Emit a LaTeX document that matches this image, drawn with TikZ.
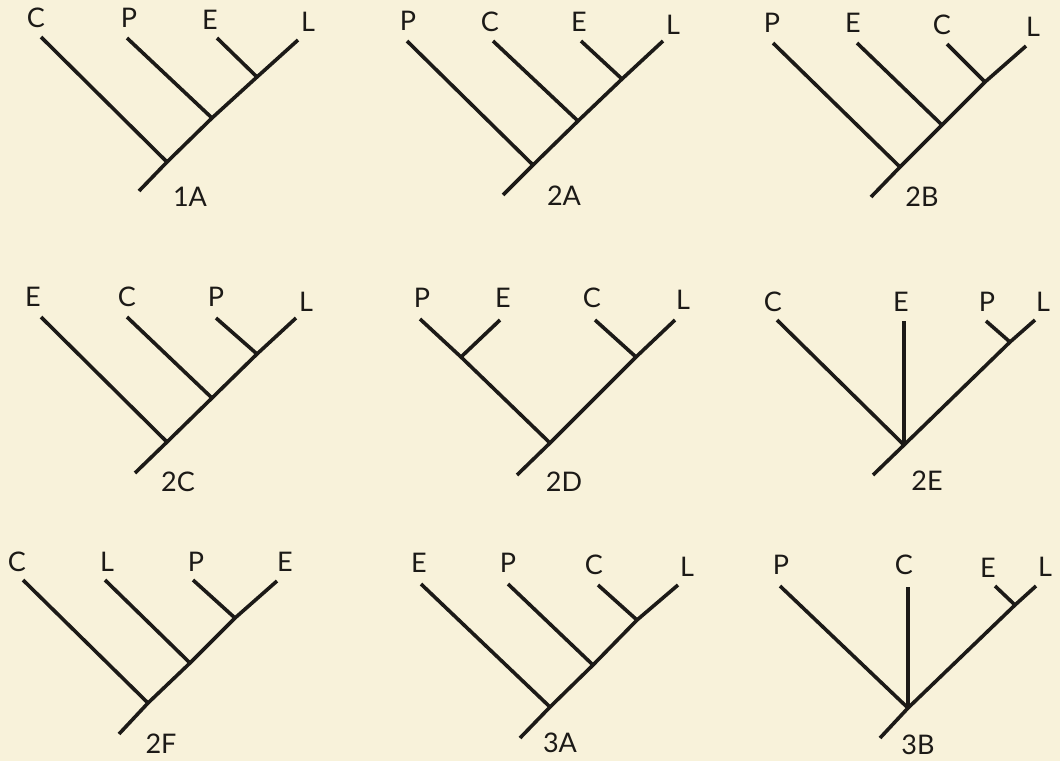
\documentclass[tikz,border=0pt]{standalone}
\usepackage{fontspec}
\setmainfont{Lato}
\usepackage{tikz}
\usetikzlibrary{positioning,calc}
\definecolor{paper}{HTML}{F8F2DA}
\definecolor{ink}{HTML}{1C1A17}
\tikzset{
  branch/.style={draw=ink,line width=3.6pt,line cap=butt,line join=miter},
  taxon/.style={font=\fontsize{27}{27}\selectfont,text=ink,inner sep=0pt},
  tag/.style={font=\fontsize{27}{27}\selectfont,text=ink,inner sep=0pt}
}
\begin{document}
\begin{tikzpicture}[x=1pt,y=-1pt]
  \fill[paper] (0,0) rectangle (1060,761);
  \useasboundingbox (0,0) rectangle (1060,761);
  % 1A
  \coordinate (a-r) at (139,191); \coordinate (a-1) at (167,162);
  \coordinate (a-2) at (212,118); \coordinate (a-3) at (257,77);
  \coordinate (a-C) at (41,37);   \coordinate (a-P) at (127,38);
  \coordinate (a-E) at (217,38);  \coordinate (a-L) at (298,40);
  \draw[branch] (a-r) -- (a-1) -- (a-2) -- (a-3) -- (a-L);
  \foreach \a/\b in {a-C/a-1,a-P/a-2,a-E/a-3}{\draw[branch] (\a) -- (\b);}
  \node[taxon] (a-tC) at (36,18) {C};  \node[taxon] (a-tP) at (129,18) {P};
  \node[taxon] (a-tE) at (210,20) {E}; \node[taxon] (a-tL) at (308,22) {L};
  \node[tag] (a-name) at (190,197) {1A};
  % 2A
  \coordinate (b-r) at (503,195); \coordinate (b-1) at (533,165);
  \coordinate (b-2) at (578,121); \coordinate (b-3) at (622,79);
  \coordinate (b-P) at (407,41);  \coordinate (b-C) at (493,41);
  \coordinate (b-E) at (581,41);  \coordinate (b-L) at (663,41);
  \draw[branch] (b-r) -- (b-1) -- (b-2) -- (b-3) -- (b-L);
  \foreach \a/\b in {b-P/b-1,b-C/b-2,b-E/b-3}{\draw[branch] (\a) -- (\b);}
  \node[taxon] (b-tP) at (408,21) {P};  \node[taxon] (b-tC) at (490,22) {C};
  \node[taxon] (b-tE) at (579,22) {E};  \node[taxon] (b-tL) at (673,25) {L};
  \node[tag] (b-name) at (564,196) {2A};
  % 2B
  \coordinate (c-r) at (871,197); \coordinate (c-1) at (900,167);
  \coordinate (c-2) at (942,125); \coordinate (c-3) at (985,82);
  \coordinate (c-P) at (773,43);  \coordinate (c-E) at (857,43);
  \coordinate (c-C) at (947,44);  \coordinate (c-L) at (1026,46);
  \draw[branch] (c-r) -- (c-1) -- (c-2) -- (c-3) -- (c-L);
  \foreach \a/\b in {c-P/c-1,c-E/c-2,c-C/c-3}{\draw[branch] (\a) -- (\b);}
  \node[taxon] (c-tP) at (772,23) {P};  \node[taxon] (c-tE) at (853,23) {E};
  \node[taxon] (c-tC) at (942,25) {C};  \node[taxon] (c-tL) at (1033,27) {L};
  \node[tag] (c-name) at (922,197) {2B};
  % 2C
  \coordinate (d-r) at (135,473); \coordinate (d-1) at (167,442);
  \coordinate (d-2) at (212,398); \coordinate (d-3) at (257,354);
  \coordinate (d-E) at (41,317);  \coordinate (d-C) at (127,317);
  \coordinate (d-P) at (216,318); \coordinate (d-L) at (296,318);
  \draw[branch] (d-r) -- (d-1) -- (d-2) -- (d-3) -- (d-L);
  \foreach \a/\b in {d-E/d-1,d-C/d-2,d-P/d-3}{\draw[branch] (\a) -- (\b);}
  \node[taxon] (d-tE) at (33,297) {E};  \node[taxon] (d-tC) at (127,297) {C};
  \node[taxon] (d-tP) at (216,297) {P}; \node[taxon] (d-tL) at (306,302) {L};
  \node[tag] (d-name) at (178,482) {2C};
  % 2D
  \coordinate (e-r) at (517,475); \coordinate (e-1) at (550,443);
  \coordinate (e-pe) at (461,357); \coordinate (e-cl) at (636,357);
  \coordinate (e-P) at (420,319); \coordinate (e-E) at (500,320);
  \coordinate (e-C) at (595,320); \coordinate (e-L) at (675,320);
  \draw[branch] (e-r) -- (e-1) -- (e-cl) -- (e-L);
  \draw[branch] (e-P) -- (e-pe) -- (e-1);
  \foreach \a/\b in {e-E/e-pe,e-C/e-cl}{\draw[branch] (\a) -- (\b);}
  \node[taxon] (e-tP) at (422,298) {P}; \node[taxon] (e-tE) at (503,298) {E};
  \node[taxon] (e-tC) at (592,298) {C}; \node[taxon] (e-tL) at (683,300) {L};
  \node[tag] (e-name) at (564,482) {2D};
  % 2E
  \coordinate (f-r) at (873,475); \coordinate (f-1) at (904,445);
  \coordinate (f-pl) at (1010,342);
  \coordinate (f-C) at (777,320); \coordinate (f-E) at (904,321);
  \coordinate (f-P) at (986,321); \coordinate (f-L) at (1035,320);
  \draw[branch] (f-r) -- (f-1) -- (f-pl) -- (f-L);
  \foreach \a/\b in {f-C/f-1,f-E/f-1,f-P/f-pl}{\draw[branch] (\a) -- (\b);}
  \node[taxon] (f-tC) at (773,302) {C};  \node[taxon] (f-tE) at (901,302) {E};
  \node[taxon] (f-tP) at (987,302) {P};  \node[taxon] (f-tL) at (1043,302) {L};
  \node[tag] (f-name) at (927,481) {2E};
  % 2F
  \coordinate (g-r) at (119,734); \coordinate (g-1) at (148,703);
  \coordinate (g-2) at (190,663); \coordinate (g-3) at (235,618);
  \coordinate (g-C) at (23,580);  \coordinate (g-L) at (105,580);
  \coordinate (g-P) at (193,580); \coordinate (g-E) at (277,581);
  \draw[branch] (g-r) -- (g-1) -- (g-2) -- (g-3) -- (g-E);
  \foreach \a/\b in {g-C/g-1,g-L/g-2,g-P/g-3}{\draw[branch] (\a) -- (\b);}
  \node[taxon] (g-tC) at (17,562) {C};  \node[taxon] (g-tL) at (107,562) {L};
  \node[taxon] (g-tP) at (196,562) {P}; \node[taxon] (g-tE) at (285,562) {E};
  \node[tag] (g-name) at (161,744) {2F};
  % 3A
  \coordinate (h-r) at (520,738); \coordinate (h-1) at (550,707);
  \coordinate (h-2) at (593,665); \coordinate (h-3) at (637,620);
  \coordinate (h-E) at (421,584); \coordinate (h-P) at (508,584);
  \coordinate (h-C) at (598,585); \coordinate (h-L) at (678,585);
  \draw[branch] (h-r) -- (h-1) -- (h-2) -- (h-3) -- (h-L);
  \foreach \a/\b in {h-E/h-1,h-P/h-2,h-C/h-3}{\draw[branch] (\a) -- (\b);}
  \node[taxon] (h-tE) at (419,563) {E}; \node[taxon] (h-tP) at (508,563) {P};
  \node[taxon] (h-tC) at (594,565) {C}; \node[taxon] (h-tL) at (687,567) {L};
  \node[tag] (h-name) at (560,743) {3A};
  % 3B
  \coordinate (k-r) at (880,738); \coordinate (k-1) at (908,708);
  \coordinate (k-el) at (1015,605);
  \coordinate (k-P) at (780,586); \coordinate (k-C) at (908,587);
  \coordinate (k-E) at (995,586); \coordinate (k-L) at (1036,586);
  \draw[branch] (k-r) -- (k-1) -- (k-el) -- (k-L);
  \foreach \a/\b in {k-P/k-1,k-C/k-1,k-E/k-el}{\draw[branch] (\a) -- (\b);}
  \node[taxon] (k-tP) at (781,565) {P};  \node[taxon] (k-tC) at (904,565) {C};
  \node[taxon] (k-tE) at (988,568) {E};  \node[taxon] (k-tL) at (1045,567) {L};
  \node[tag] (k-name) at (918,745) {3B};
\end{tikzpicture}
\end{document}
